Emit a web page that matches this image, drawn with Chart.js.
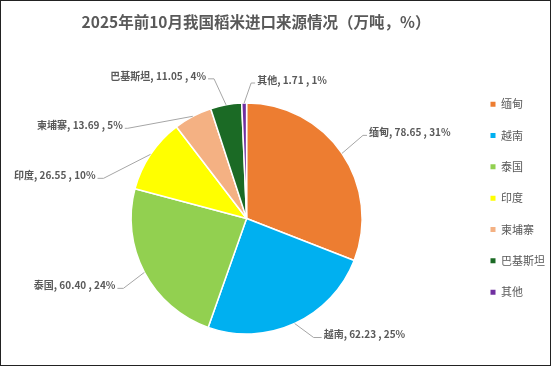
<!DOCTYPE html>
<html>
<head>
<meta charset="utf-8">
<script src="https://cdn.jsdelivr.net/npm/chart.js@4"></script>
<style>
body{margin:0;background:#fff;}
#wrap{position:relative;width:554px;height:368px;}
#frame{position:absolute;left:0;top:0;width:551px;height:366px;box-sizing:border-box;border:1px solid #222;pointer-events:none;}
</style>
</head>
<body>
<div id="wrap"><canvas id="chart" width="554" height="368"></canvas><div id="frame"></div></div>
<script>
const countries=['缅甸','越南','泰国','印度','柬埔寨','巴基斯坦','其他'];
const tonnes=[78.65,62.23,60.40,26.55,13.69,11.05,1.71];
const shares=[31,25,24,10,5,4,1];
const colors=['#ED7D31','#00B0F0','#92D050','#FFFF00','#F4B183','#1B6A25','#7030A0'];

// where each leader line bends, measured from the slice's outer edge
const elbows=[[21,-18],[19,14],[-21,16],[-47,24],[-65,12],[-12,-26],[7,-20]];
const stubs=[4,8,6,6,3,6,4];

const pieLabels={
    id:'pieLabels',
    afterDatasetsDraw(chart){
        const ctx=chart.ctx;
        const arcs=chart.getDatasetMeta(0).data;
        ctx.save();
        ctx.font='bold 10px "Noto Sans CJK SC"';
        ctx.textBaseline='middle';
        arcs.forEach((arc,i)=>{
            const a=(arc.startAngle+arc.endAngle)/2;
            const ex=arc.x+Math.cos(a)*arc.outerRadius;
            const ey=arc.y+Math.sin(a)*arc.outerRadius;
            const bx=ex+elbows[i][0], by=ey+elbows[i][1];
            const dir=bx>arc.x?1:-1;
            const tx=bx+dir*stubs[i];
            ctx.strokeStyle='#A6A6A6';
            ctx.lineWidth=1;
            ctx.beginPath();
            ctx.moveTo(ex,ey);
            ctx.lineTo(bx,by);
            ctx.lineTo(tx,by);
            ctx.stroke();
            ctx.fillStyle='#595959';
            ctx.textAlign=dir>0?'left':'right';
            ctx.fillText(countries[i]+', '+tonnes[i].toFixed(2)+' , '+shares[i]+'%',tx+dir*2,by-3);
        });
        ctx.restore();
    }
};

Chart.defaults.font.family='"Noto Sans CJK SC"';

new Chart(document.getElementById('chart'),{
    type:'pie',
    data:{
        labels:countries,
        datasets:[{
            data:tonnes,
            backgroundColor:colors,
            borderColor:'#fff',
            borderWidth:1.5,
            radius:115.5
        }]
    },
    options:{
        responsive:false,
        animation:false,
        devicePixelRatio:1,
        // negative left padding lets the title sit left of the canvas centre,
        // the empty left subtitle then pushes the pie back to the right
        layout:{padding:{left:-43,right:-1,top:0,bottom:0}},
        plugins:{
            title:{
                display:true,
                text:'2025年前10月我国稻米进口来源情况（万吨，%）',
                color:'#595959',
                font:{size:15.5,weight:'bold'},
                padding:{top:12.7,bottom:37.7}
            },
            subtitle:{
                display:true,
                position:'left',
                fullSize:false,
                text:' ',
                font:{size:10},
                padding:{top:27,bottom:27}
            },
            legend:{
                position:'right',
                title:{display:true,text:' ',font:{size:10},padding:{top:8.2,bottom:8.2}},
                labels:{
                    boxWidth:5,
                    boxHeight:5,
                    padding:20.33,
                    color:'#595959',
                    font:{size:11},
                    generateLabels(chart){
                        return Chart.overrides.pie.plugins.legend.labels.generateLabels(chart)
                            .map(l=>Object.assign(l,{lineWidth:0,strokeStyle:l.fillStyle}));
                    }
                }
            },
            tooltip:{enabled:false}
        }
    },
    plugins:[pieLabels]
});
</script>
</body>
</html>
